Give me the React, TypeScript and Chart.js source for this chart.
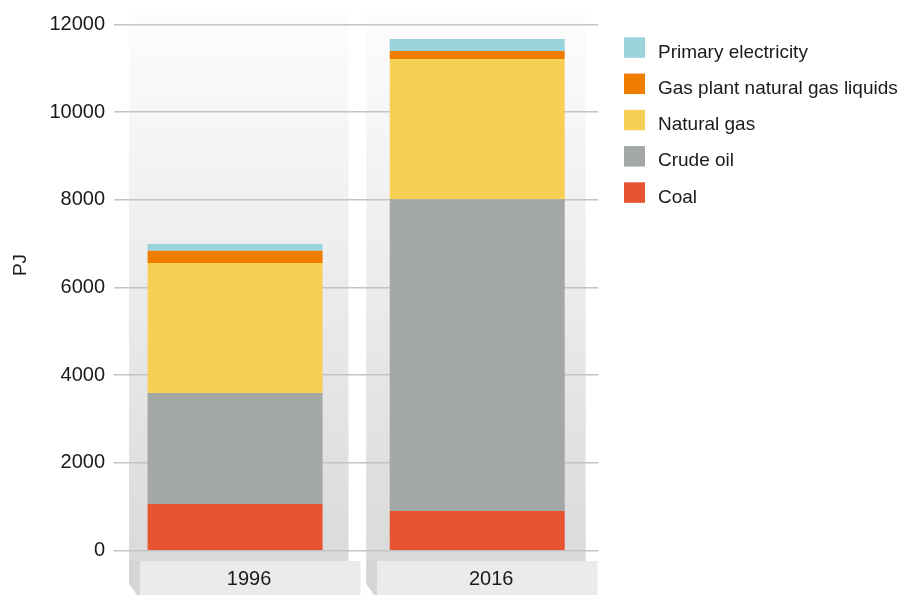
import React, { useEffect, useRef } from "react";
import { Chart, registerables } from "chart.js";

Chart.register(...registerables);

// ---- data ----
const categories = ["1996", "2016"];
const coal = [1065, 905];
const crudeOil = [2530, 7105];
const naturalGas = [2965, 3200];
const gasPlantNGL = [275, 180];
const primaryElectricity = [155, 275];
const seriesLabels = ["Coal", "Crude oil", "Natural gas", "Gas plant natural gas liquids", "Primary electricity"];
const seriesColors = ["#e85431", "#a3a8a4", "#f6d055", "#ef7d00", "#9bd3dc"];
const yAxisTitle = "PJ";
const yMax = 12000;
const yStep = 2000;

const FONT = "'Liberation Sans', Arial, sans-serif";

const backgroundPlugin = {
  id: "bgColumns",
  beforeDraw(chart: any) {
    const ctx = chart.ctx;
    const area = chart.chartArea;
    const n = chart.data.labels.length;
    const catW = (area.right - area.left) / n;
    const H = chart.height;
    const top = 10;
    const boxTop = 561;
    ctx.save();
    for (let i = 0; i < n; i++) {
      const L = area.left + 15 + i * (catW - 5);
      const W = 219.5;
      const g = ctx.createLinearGradient(0, top, 0, boxTop);
      g.addColorStop(0, "#fdfdfd");
      g.addColorStop(1, "#dadada");
      ctx.fillStyle = g;
      ctx.fillRect(L, top, W, boxTop - top);
      ctx.fillStyle = "#dadada";
      ctx.fillRect(L + 11, boxTop, W - 11, H - boxTop);
      ctx.fillStyle = "#d5d5d5";
      ctx.beginPath();
      ctx.moveTo(L, boxTop);
      ctx.lineTo(L + 11, boxTop);
      ctx.lineTo(L + 11, H);
      ctx.lineTo(L + 8, H);
      ctx.lineTo(L, H - 11);
      ctx.closePath();
      ctx.fill();
      ctx.fillStyle = "#ebebeb";
      ctx.fillRect(L + 11, boxTop, 220.5, H - boxTop);
    }
    ctx.restore();
  },
};

const legendPlugin = {
  id: "customLegend",
  afterDraw(chart: any) {
    const ctx = chart.ctx;
    const ds = chart.data.datasets;
    ctx.save();
    ctx.font = `19px ${FONT}`;
    ctx.textAlign = "left";
    ctx.textBaseline = "alphabetic";
    let row = 0;
    for (let i = ds.length - 1; i >= 0; i--) {
      const y = 37.3 + row * 36.25;
      ctx.fillStyle = ds[i].backgroundColor;
      ctx.fillRect(624, y, 21, 20.5);
      ctx.fillStyle = "#1a1a1a";
      ctx.fillText(ds[i].label, 658, y + 20.3);
      row++;
    }
    ctx.translate(21, 265);
    ctx.rotate(-Math.PI / 2);
    ctx.font = `19px ${FONT}`;
    ctx.textAlign = "center";
    ctx.textBaseline = "middle";
    ctx.fillStyle = "#1a1a1a";
    ctx.fillText(yAxisTitle, 0, 0);
    ctx.restore();
  },
};

export default function App() {
  const ref = useRef<HTMLCanvasElement | null>(null);
  useEffect(() => {
    if (!ref.current) return;
    const values = [coal, crudeOil, naturalGas, gasPlantNGL, primaryElectricity];
    const chart = new Chart(ref.current, {
      type: "bar",
      data: {
        labels: categories,
        datasets: values.map((v, i) => ({
          label: seriesLabels[i],
          data: v,
          backgroundColor: seriesColors[i],
          borderWidth: 0,
          barPercentage: 0.7227,
          categoryPercentage: 1,
        })),
      },
      options: {
        responsive: false,
        animation: false,
        layout: { padding: { left: 0, right: 312.7, top: 24.3, bottom: 0 } },
        plugins: { legend: { display: false }, tooltip: { enabled: false } },
        scales: {
          x: {
            stacked: true,
            grid: { display: false, drawTicks: false },
            border: { display: false },
            ticks: {
              font: { family: FONT, size: 20 },
              color: "#1a1a1a",
              padding: 17,
              labelOffset: 14,
              maxRotation: 0,
            },
            afterFit(scale: any) {
              scale.height = 44.3;
            },
          },
          y: {
            stacked: true,
            min: 0,
            max: yMax,
            grid: { color: "#c4c4c4", lineWidth: 1.5, drawTicks: false },
            border: { display: false },
            ticks: {
              stepSize: yStep,
              font: { family: FONT, size: 20 },
              color: "#1a1a1a",
              padding: 9,
              callback: (v: any) => String(v),
            },
            afterFit(scale: any) {
              scale.width = 114;
            },
          },
        },
      },
      plugins: [backgroundPlugin, legendPlugin],
    });
    return () => chart.destroy();
  }, []);
  return (
    <div style={{ position: "absolute", left: 0, top: 0, width: 911, height: 595, background: "#fff" }}>
      <canvas ref={ref} width={911} height={595} />
    </div>
  );
}
